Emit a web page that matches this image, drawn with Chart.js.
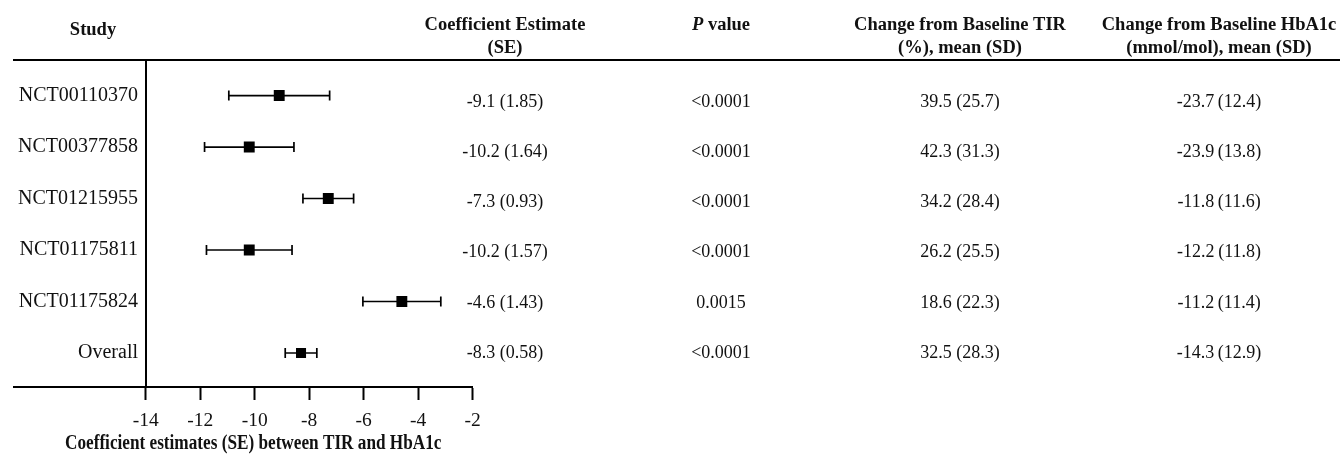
<!DOCTYPE html>
<html>
<head>
<meta charset="utf-8">
<script src="https://cdn.jsdelivr.net/npm/chart.js@4.4.1/dist/chart.umd.min.js"></script>
<style>
  html, body { margin: 0; padding: 0; background: #fff; }
  #c { display: block; }
</style>
</head>
<body>
<canvas id="c" width="1340" height="460"></canvas>
<script>
// Study rows, top to bottom
const studies = ['NCT00110370', 'NCT00377858', 'NCT01215955', 'NCT01175811', 'NCT01175824', 'Overall'];
// Coefficient estimate and its standard error (whiskers span estimate ± SE)
const estimates = [-9.1, -10.2, -7.3, -10.2, -4.6, -8.3];
const standardErrors = [1.85, 1.64, 0.93, 1.57, 1.43, 0.58];
const pValues = ['<0.0001', '<0.0001', '<0.0001', '<0.0001', '0.0015', '<0.0001'];
// Change from baseline TIR (%), mean and SD
const tirMean = [39.5, 42.3, 34.2, 26.2, 18.6, 32.5];
const tirSD = [25.7, 31.3, 28.4, 25.5, 22.3, 28.3];
// Change from baseline HbA1c (mmol/mol), mean and SD
const hba1cMean = [-23.7, -23.9, -11.8, -12.2, -11.2, -14.3];
const hba1cSD = [12.4, 13.8, 11.6, 11.8, 11.4, 12.9];
// X-axis tick values
const xTicks = [-14, -12, -10, -8, -6, -4, -2];

const SERIF = '"Liberation Serif", "Times New Roman", Times, serif';
const INK = '#111';

const coefLabels = estimates.map((e, i) => e.toFixed(1) + ' (' + standardErrors[i].toFixed(2) + ')');
const tirLabels = tirMean.map((m, i) => m.toFixed(1) + ' (' + tirSD[i].toFixed(1) + ')');
const hba1cLabels = hba1cMean.map((m, i) => m.toFixed(1) + '\u2009(' + hba1cSD[i].toFixed(1) + ')');

const lows = estimates.map((e, i) => e - standardErrors[i]);
const highs = estimates.map((e, i) => e + standardErrors[i]);

// One short line per study for the error bar
const whiskerSets = studies.map((s, i) => ({
  type: 'scatter',
  showLine: true,
  data: [{ x: lows[i], y: i }, { x: highs[i], y: i }],
  borderColor: '#000',
  borderWidth: 1.7,
  pointRadius: 0,
  order: 3
}));

const capSet = {
  type: 'scatter',
  data: studies.flatMap((s, i) => [{ x: lows[i], y: i }, { x: highs[i], y: i }]),
  pointStyle: 'line',
  rotation: 90,
  pointRadius: 5,
  pointBorderWidth: 1.7,
  pointBorderColor: '#000',
  order: 2
};

const markerSet = {
  type: 'scatter',
  data: estimates.map((e, i) => ({ x: e, y: i })),
  pointStyle: 'rect',
  pointRadius: studies.map((s, i) => i === studies.length - 1 ? 7.1 : 7.7),
  pointBackgroundColor: '#000',
  pointBorderWidth: 0,
  order: 1
};

const columns = [
  { x: 505, head: ['Coefficient Estimate', '(SE)'], cells: coefLabels },
  { x: 721, head: null, cells: pValues },
  { x: 960, head: ['Change from Baseline TIR', '(%), mean (SD)'], cells: tirLabels },
  { x: 1219, head: ['Change from Baseline HbA1c', '(mmol/mol), mean (SD)'], cells: hba1cLabels }
];

const forestTable = {
  id: 'forestTable',
  afterDraw(chart) {
    const { ctx, chartArea } = chart;
    const top = chartArea.top, bottom = chartArea.bottom;
    ctx.save();

    // header rule and the left extension of the x-axis line
    ctx.strokeStyle = '#000';
    ctx.lineWidth = 2;
    ctx.beginPath();
    ctx.moveTo(13, top); ctx.lineTo(1340, top);
    ctx.moveTo(13, bottom); ctx.lineTo(chartArea.left, bottom);
    ctx.stroke();

    ctx.fillStyle = INK;
    ctx.textAlign = 'center';
    ctx.textBaseline = 'middle';
    const bold = 'bold 18.5px ' + SERIF;

    // column headers
    ctx.font = bold;
    ctx.fillText('Study', 93, 30);
    columns.forEach(col => {
      if (!col.head) return;
      ctx.fillText(col.head[0], col.x, 25.5);
      ctx.fillText(col.head[1], col.x, 48.5);
    });
    // "P value" with an italic P
    const pFont = 'italic bold 18.5px ' + SERIF;
    ctx.font = pFont;
    const wP = ctx.measureText('P').width;
    ctx.font = bold;
    const wRest = ctx.measureText(' value').width;
    const startX = 721 - (wP + wRest) / 2;
    ctx.textAlign = 'left';
    ctx.font = pFont;
    ctx.fillText('P', startX, 25.5);
    ctx.font = bold;
    ctx.fillText(' value', startX + wP, 25.5);

    // table body
    ctx.textAlign = 'center';
    ctx.font = '18px ' + SERIF;
    const firstRow = top + 42;
    const step = (bottom - 34 - firstRow) / (studies.length - 1);
    columns.forEach(col => {
      col.cells.forEach((t, i) => ctx.fillText(t, col.x, firstRow + i * step));
    });

    // x-axis title, set slightly condensed
    ctx.font = 'bold 20px ' + SERIF;
    ctx.textAlign = 'left';
    ctx.translate(65, 444);
    ctx.scale(0.86, 1);
    ctx.fillText('Coefficient estimates (SE) between TIR and HbA1c', 0, 0);
    ctx.restore();
  }
};

new Chart(document.getElementById('c'), {
  type: 'scatter',
  data: { datasets: [markerSet, capSet, ...whiskerSets] },
  options: {
    responsive: false,
    animation: false,
    devicePixelRatio: 1,
    layout: { padding: { top: 60, right: 867.3, bottom: 0, left: 0 } },
    plugins: { legend: { display: false }, tooltip: { enabled: false } },
    scales: {
      x: {
        type: 'linear',
        min: -14,
        max: -2,
        afterBuildTicks: s => { s.ticks = xTicks.map(v => ({ value: v })); },
        afterFit: s => { s.height = 73; },
        grid: { drawOnChartArea: false, drawTicks: true, tickLength: 13, tickWidth: 2, tickColor: '#000' },
        border: { display: true, color: '#000', width: 2 },
        ticks: { color: INK, font: { family: SERIF, size: 19.5 }, padding: 9, maxRotation: 0 }
      },
      y: {
        type: 'linear',
        reverse: true,
        min: -0.69,
        max: 5.66,
        afterBuildTicks: s => { s.ticks = studies.map((n, i) => ({ value: i })); },
        afterFit: s => { s.width = 145.7; },
        grid: { display: false, drawTicks: false },
        border: { display: true, color: '#000', width: 2 },
        ticks: {
          color: INK,
          font: { family: SERIF, size: 20 },
          padding: 7.7,
          callback: v => studies[v]
        }
      }
    }
  },
  plugins: [forestTable]
});
</script>
</body>
</html>
